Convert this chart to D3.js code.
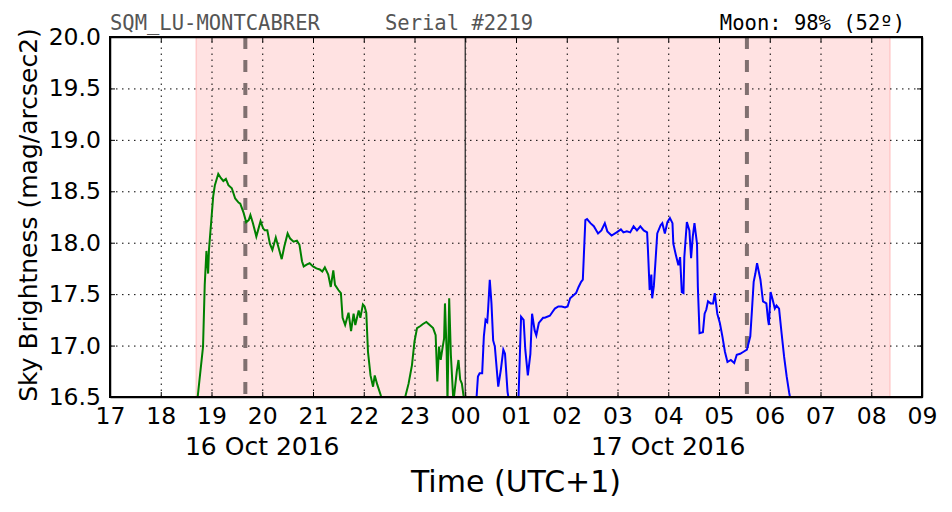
<!DOCTYPE html>
<html>
<head>
<meta charset="utf-8">
<script src="https://cdn.jsdelivr.net/npm/d3@7"></script>
<style>
  body { margin: 0; background: #fff; }
  svg { display: block; }
  .tick text { fill: #000; }
</style>
</head>
<body>
<div id="chart"></div>
<script>
// evening of 16 Oct (green) and after midnight on 17 Oct (blue)
var eveningTimes = ["18:43","18:50","18:52","18:54","18:56","18:57","19:00","19:02","19:04","19:08","19:11","19:14","19:17","19:20","19:24","19:28","19:32","19:34","19:38","19:41","19:44","19:46","19:49","19:53","19:55","19:58","20:01","20:03","20:06","20:09","20:12","20:16","20:19","20:23","20:26","20:30","20:33","20:37","20:41","20:44","20:47","20:49","20:53","20:56","21:00","21:04","21:08","21:11","21:14","21:18","21:21","21:24","21:26","21:30","21:33","21:35","21:38","21:42","21:45","21:48","21:50","21:54","21:56","21:59","22:01","22:03","22:05","22:08","22:11","22:13","22:16","22:20","22:25","22:40","22:49","22:53","22:57","23:00","23:03","23:07","23:10","23:14","23:18","23:22","23:25","23:27","23:29","23:31","23:33","23:35","23:36","23:38","23:39","23:41","23:43","23:46","23:50","23:52","23:54","23:56","23:59"];
var eveningMag = [16.45,16.99,17.59,17.92,17.70,17.93,18.24,18.45,18.56,18.67,18.63,18.60,18.62,18.56,18.53,18.43,18.39,18.38,18.29,18.20,18.22,18.27,18.19,18.06,18.12,18.21,18.14,18.12,18.12,17.99,17.93,18.05,17.96,17.84,17.96,18.09,18.04,18.01,18.02,17.98,17.82,17.77,17.79,17.80,17.77,17.75,17.74,17.72,17.76,17.69,17.57,17.73,17.59,17.54,17.51,17.27,17.20,17.32,17.14,17.31,17.20,17.34,17.27,17.40,17.38,17.32,16.94,16.71,16.60,16.71,16.62,16.52,16.35,16.30,16.50,16.63,16.81,17.04,17.17,17.19,17.21,17.23,17.20,17.17,17.10,16.65,16.99,16.86,16.97,17.07,17.41,16.94,16.45,17.46,16.91,16.45,16.75,16.86,16.67,16.63,16.45];

var morningTimes = ["00:13","00:15","00:17","00:20","00:22","00:24","00:26","00:27","00:29","00:31","00:33","00:35","00:39","00:42","00:45","00:47","00:50","00:52","00:57","01:03","01:06","01:09","01:11","01:14","01:17","01:19","01:22","01:24","01:27","01:32","01:34","01:40","01:46","01:50","01:54","01:58","02:01","02:04","02:08","02:11","02:14","02:17","02:19","02:22","02:24","02:28","02:32","02:37","02:41","02:45","02:48","02:53","02:59","03:04","03:07","03:11","03:15","03:19","03:23","03:27","03:31","03:35","03:36","03:38","03:40","03:41","03:43","03:45","03:47","03:51","03:53","03:56","03:59","04:02","04:05","04:06","04:09","04:12","04:14","04:16","04:18","04:19","04:22","04:25","04:27","04:29","04:31","04:34","04:35","04:37","04:41","04:43","04:45","04:47","04:50","04:53","04:55","04:58","05:01","05:04","05:07","05:10","05:14","05:18","05:21","05:25","05:29","05:33","05:37","05:39","05:41","05:43","05:45","05:47","05:49","05:52","05:54","05:56","05:58","05:59","06:01","06:03","06:06","06:08","06:11","06:14","06:17","06:20","06:23","06:25"];
var morningMag = [16.45,16.70,16.73,16.73,17.09,17.25,17.23,17.35,17.64,17.41,17.05,16.99,16.60,16.76,16.96,16.92,16.55,16.45,16.30,16.50,17.28,17.25,16.96,16.71,16.92,17.31,17.15,17.10,17.22,17.27,17.27,17.29,17.36,17.38,17.38,17.37,17.38,17.46,17.49,17.51,17.57,17.62,17.64,18.22,18.23,18.19,18.16,18.09,18.12,18.19,18.11,18.07,18.10,18.13,18.10,18.11,18.10,18.16,18.12,18.16,18.12,18.10,17.93,17.54,17.69,17.46,17.58,17.83,18.09,18.17,18.19,18.09,18.20,18.24,18.19,17.99,17.88,17.78,17.86,17.52,17.51,17.86,18.20,18.12,17.85,18.06,18.19,17.99,17.57,17.12,17.13,17.31,17.35,17.43,17.41,17.41,17.51,17.31,17.22,17.09,16.94,16.84,16.86,16.83,16.91,16.92,16.94,16.96,17.09,17.35,17.62,17.70,17.80,17.72,17.64,17.43,17.42,17.41,17.25,17.20,17.52,17.46,17.36,17.39,17.36,17.12,16.89,16.70,16.54,16.45];

var yTicks = [16.5, 17.0, 17.5, 18.0, 18.5, 19.0, 19.5, 20.0];
var nightSpan = ["2016-10-16 18:42", "2016-10-17 08:22"];
var moonMarks = ["2016-10-16 19:40", "2016-10-17 05:33"];
var dateLabels = ["16 Oct 2016", "17 Oct 2016"];
var dateLabelAt = ["2016-10-16 20:00", "2016-10-17 04:00"];
var titleLeft = "SQM_LU-MONTCABRER";
var titleMid = "Serial #2219";
var titleRight = "Moon: 98% (52º)";

var W = 952, H = 512;
var margin = {top: 37, right: 30, bottom: 115, left: 110};
var width = W - margin.left - margin.right,
    height = H - margin.top - margin.bottom;

var parse = d3.timeParse("%Y-%m-%d %H:%M");
var sans = "'DejaVu Sans', sans-serif";
var mono = "'DejaVu Sans Mono', monospace";

var evening = eveningTimes.map(function(t, i) { return {t: parse("2016-10-16 " + t), v: eveningMag[i]}; });
var morning = morningTimes.map(function(t, i) { return {t: parse("2016-10-17 " + t), v: morningMag[i]}; });

var x = d3.scaleTime()
    .domain([parse("2016-10-16 17:00"), parse("2016-10-17 09:00")])
    .range([0, width]);

var y = d3.scaleLinear()
    .domain([16.5, 20.0])
    .range([height, 0]);

var svg = d3.select("#chart").append("svg")
    .attr("width", W)
    .attr("height", H)
  .append("g")
    .attr("transform", "translate(" + margin.left + "," + margin.top + ")");

svg.append("clipPath").attr("id", "plot")
  .append("rect").attr("width", width).attr("height", height);

// night band
svg.append("rect")
    .attr("x", x(parse(nightSpan[0])))
    .attr("y", 0)
    .attr("width", x(parse(nightSpan[1])) - x(parse(nightSpan[0])))
    .attr("height", height)
    .style("fill", "#ffe2e2")
    .style("stroke", "#ffcaca")
    .style("stroke-width", 1.5);

// dotted grid
var hours = d3.timeHour.every(1);
svg.append("g")
    .attr("class", "grid")
    .attr("transform", "translate(0," + height + ")")
    .call(d3.axisBottom(x).ticks(hours).tickSize(-height).tickFormat(""))
    .call(function(g) { g.select(".domain").remove(); });
svg.append("g")
    .attr("class", "grid")
    .call(d3.axisLeft(y).tickValues(yTicks).tickSize(-width).tickFormat(""))
    .call(function(g) { g.select(".domain").remove(); });
svg.selectAll(".grid line")
    .style("stroke", "#000")
    .style("stroke-width", 1)
    .style("stroke-dasharray", "1.5,4.5");

// moon marks
svg.selectAll(".moon")
    .data(moonMarks)
  .enter().append("line")
    .attr("class", "moon")
    .attr("x1", function(d) { return x(parse(d)); })
    .attr("x2", function(d) { return x(parse(d)); })
    .attr("y1", 0)
    .attr("y2", height)
    .style("stroke", "#807070")
    .style("stroke-width", 4)
    .style("stroke-dasharray", "12,11");

// midnight
svg.append("line")
    .attr("x1", x(parse("2016-10-17 00:00")))
    .attr("x2", x(parse("2016-10-17 00:00")))
    .attr("y1", 0)
    .attr("y2", height)
    .style("stroke", "#333")
    .style("stroke-width", 1.3);

var line = d3.line()
    .x(function(d) { return x(d.t); })
    .y(function(d) { return y(d.v); });

svg.append("path")
    .datum(evening)
    .attr("clip-path", "url(#plot)")
    .attr("d", line)
    .style("fill", "none")
    .style("stroke", "#008000")
    .style("stroke-width", 2);

svg.append("path")
    .datum(morning)
    .attr("clip-path", "url(#plot)")
    .attr("d", line)
    .style("fill", "none")
    .style("stroke", "#0000ff")
    .style("stroke-width", 2);

// axes, ticks pointing inward on all four sides
var xAxis = svg.append("g")
    .attr("transform", "translate(0," + height + ")")
    .call(d3.axisBottom(x).ticks(hours).tickSizeInner(-5).tickSizeOuter(0).tickPadding(10)
      .tickFormat(d3.timeFormat("%H")));
xAxis.selectAll("text")
    .style("font-family", sans)
    .style("font-size", "23.5px");

svg.append("g")
    .call(d3.axisTop(x).ticks(hours).tickSizeInner(-5).tickSizeOuter(0).tickFormat(""));

var yAxis = svg.append("g")
    .call(d3.axisLeft(y).tickValues(yTicks).tickSizeInner(-5).tickSizeOuter(0).tickPadding(9)
      .tickFormat(d3.format(".1f")));
yAxis.selectAll("text")
    .style("font-family", sans)
    .style("font-size", "23.5px");

svg.append("g")
    .attr("transform", "translate(" + width + ",0)")
    .call(d3.axisRight(y).tickValues(yTicks).tickSizeInner(-5).tickSizeOuter(0).tickFormat(""));

svg.selectAll(".domain").style("stroke-width", 1.5);

// frame on top
svg.append("rect")
    .attr("width", width)
    .attr("height", height)
    .style("fill", "none")
    .style("stroke", "#000")
    .style("stroke-width", 2);

// date labels
svg.selectAll(".date")
    .data(dateLabels)
  .enter().append("text")
    .attr("class", "date")
    .attr("x", function(d, i) { return x(parse(dateLabelAt[i])); })
    .attr("y", height + 58)
    .attr("text-anchor", "middle")
    .style("font-family", sans)
    .style("font-size", "25px")
    .text(function(d) { return d; });

svg.append("text")
    .attr("x", width / 2)
    .attr("y", height + 95)
    .attr("text-anchor", "middle")
    .style("font-family", sans)
    .style("font-size", "30px")
    .text("Time (UTC+1)");

svg.append("text")
    .attr("transform", "translate(" + (-73) + "," + (height / 2 - 2) + ") rotate(-90)")
    .attr("text-anchor", "middle")
    .style("font-family", sans)
    .style("font-size", "25px")
    .text("Sky Brightness (mag/arcsec2)");

// header
svg.append("text").attr("x", 0).attr("y", -7)
    .style("font-family", mono).style("font-size", "20.5px").style("fill", "#555")
    .text(titleLeft);
svg.append("text").attr("x", 275).attr("y", -7)
    .style("font-family", mono).style("font-size", "20.5px").style("fill", "#555")
    .text(titleMid);
svg.append("text").attr("x", 795).attr("y", -7)
    .attr("text-anchor", "end")
    .style("font-family", mono).style("font-size", "20.5px").style("fill", "#000")
    .text(titleRight);
</script>
</body>
</html>
